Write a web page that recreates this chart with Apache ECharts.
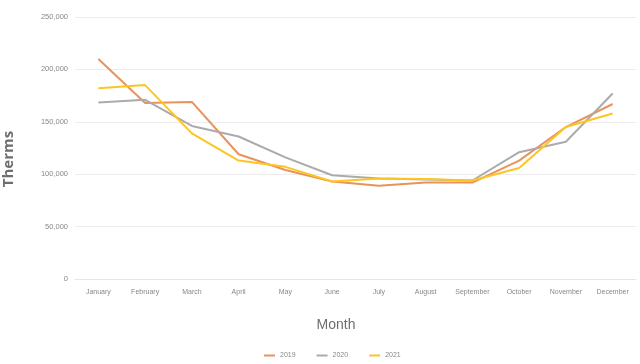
<!DOCTYPE html>
<html>
<head>
<meta charset="utf-8">
<script src="https://cdn.jsdelivr.net/npm/echarts@6/dist/echarts.min.js"></script>
<style>
  html, body { margin: 0; padding: 0; background: #fff; }
  #chart { width: 640px; height: 364px; }
</style>
</head>
<body>
<div id="chart"></div>
<script>
const months = ['January', 'February', 'March', 'April', 'May', 'June', 'July', 'August', 'September', 'October', 'November', 'December'];
const therms2019 = [210000, 168000, 169000, 119000, 104000, 93000, 89000, 92000, 92000, 113000, 145000, 167000];
const therms2020 = [168500, 171000, 146000, 136000, 116000, 99000, 96000, 95000, 94000, 121000, 131000, 177000];
const therms2021 = [182000, 185000, 139000, 113000, 107000, 93000, 96000, 95500, 94000, 106000, 145000, 158000];
const yTicks = [0, 50000, 100000, 150000, 200000, 250000];

const chart = echarts.init(document.getElementById('chart'));

const lineSeries = (name, data, color) => ({
    name: name,
    type: 'line',
    data: data,
    showSymbol: false,
    symbol: 'none',
    lineStyle: {width: 2, color: color},
    itemStyle: {color: color}
});

chart.setOption({
    animation: false,
    textStyle: {fontFamily: 'Liberation Sans'},
    grid: {left: 75, right: 4, top: 17, bottom: 85, outerBoundsMode: 'none'},
    // axis titles sit off the plot centre in the original, so place them by hand
    title: {
        text: 'Month',
        left: 331,
        top: 313,
        textAlign: 'center',
        textStyle: {fontSize: 14, fontWeight: 'normal', color: '#6e6e6e'}
    },
    graphic: [{
        type: 'text',
        x: 9,
        y: 159,
        rotation: Math.PI / 2,
        style: {
            text: 'Therms',
            align: 'center',
            verticalAlign: 'middle',
            font: 'bold 15px "Open Sans"',
            fill: '#6e6e6e'
        }
    }],
    legend: {
        top: 352,
        left: 264,
        padding: 0,
        itemWidth: 11,
        itemHeight: 2,
        itemGap: 21,
        icon: 'rect',
        textStyle: {fontSize: 7, color: '#888'},
        data: ['2019', '2020', '2021']
    },
    xAxis: {
        type: 'category',
        data: months,
        boundaryGap: true,
        axisLine: {lineStyle: {color: '#e6e6e6'}},
        axisTick: {show: false},
        axisLabel: {fontSize: 7, color: '#888', margin: 10, interval: 0}
    },
    yAxis: {
        type: 'value',
        min: yTicks[0],
        max: yTicks[yTicks.length - 1],
        interval: 50000,
        axisLine: {show: false},
        axisTick: {show: false},
        splitLine: {lineStyle: {color: '#ececec'}},
        axisLabel: {
            fontSize: 7.5,
            color: '#888',
            margin: 7,
            formatter: v => v.toLocaleString('en-US')
        }
    },
    series: [
        lineSeries('2019', therms2019, '#E9925C'),
        lineSeries('2020', therms2020, '#ABABAB'),
        lineSeries('2021', therms2021, '#FDC522')
    ]
});
</script>
</body>
</html>
